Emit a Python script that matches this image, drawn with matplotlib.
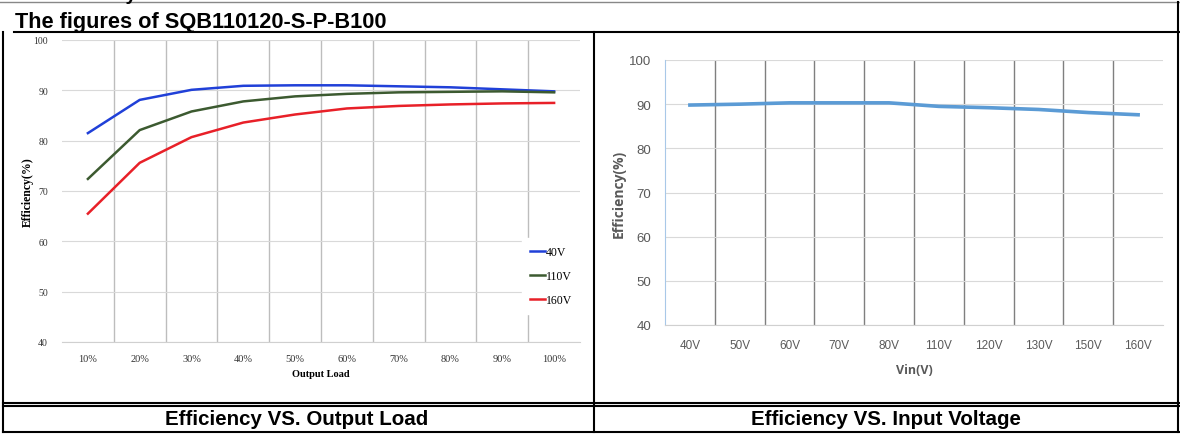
import matplotlib
matplotlib.use("Agg")
import matplotlib.pyplot as plt
from matplotlib.lines import Line2D
import numpy as np

# -------------------------
# Data
# -------------------------
load_labels = ["10%", "20%", "30%", "40%", "50%", "60%", "70%", "80%", "90%", "100%"]
eff_40v = [81.5, 88.1, 90.1, 90.9, 91.0, 91.0, 90.8, 90.6, 90.2, 89.8]
eff_110v = [72.4, 82.1, 85.8, 87.8, 88.8, 89.3, 89.6, 89.7, 89.8, 89.6]
eff_160v = [65.5, 75.6, 80.7, 83.6, 85.2, 86.4, 86.9, 87.2, 87.4, 87.5]
series_names = ["40V", "110V", "160V"]

vin_labels = ["40V", "50V", "60V", "70V", "80V", "110V", "120V", "130V", "150V", "160V"]
eff_vin = [89.8, 90.0, 90.3, 90.3, 90.3, 89.5, 89.2, 88.8, 88.1, 87.6]

y_ticks = [40, 50, 60, 70, 80, 90, 100]

W, H = 1180, 435


def px_axes(fig, x0, y0, x1, y1):
    # pixel box (top-left origin) -> figure axes
    return fig.add_axes([x0 / W, 1 - y1 / H, (x1 - x0) / W, (y1 - y0) / H])


def hline(fig, x0, x1, y, lw=1.5, color="black"):
    fig.add_artist(Line2D([x0 / W, x1 / W], [1 - y / H, 1 - y / H], lw=lw, color=color))


def vline(fig, x, y0, y1, lw=1.5, color="black"):
    fig.add_artist(Line2D([x / W, x / W], [1 - y0 / H, 1 - y1 / H], lw=lw, color=color))


def category_grid(ax, n, vcolor):
    ax.set_xlim(-0.5, n - 0.5)
    ax.set_xticks(np.arange(n))
    ax.set_xticks(np.arange(0.5, n - 1, 1.0), minor=True)
    ax.grid(axis="x", which="minor", color=vcolor, lw=1.0)
    ax.grid(axis="y", which="major", color="#d9d9d9", lw=0.8)
    ax.tick_params(which="both", length=0)
    ax.set_axisbelow(True)


fig = plt.figure(figsize=(W / 100, H / 100), dpi=100)

# -------------------------
# Table frame
# -------------------------
hline(fig, 0, W, 3, lw=1.0, color="#888888")
hline(fig, 14, W, 33, lw=1.5)
hline(fig, 3, W, 404, lw=1.5)
hline(fig, 3, W, 406.5, lw=1.5)
hline(fig, 3, W, 433, lw=1.5)
vline(fig, 3, 33, 433)
vline(fig, 594, 33, 433)
vline(fig, 1178, 3, 433)

# heading of the previous section, only its descender shows at the top edge
fig.text(137 / W, 1 - 0.5 / H, "Efficiency", ha="right", va="baseline",
         fontsize=14, fontweight="bold", family="Liberation Sans")
fig.text(15 / W, 1 - 28 / H, "The figures of SQB110120-S-P-B100", ha="left", va="baseline",
         fontsize=15.7, fontweight="bold", family="Liberation Sans")
fig.text(297 / W, 1 - 420 / H, "Efficiency VS. Output Load", ha="center", va="center",
         fontsize=14.8, fontweight="bold", family="Liberation Sans")
fig.text(886 / W, 1 - 420 / H, "Efficiency VS. Input Voltage", ha="center", va="center",
         fontsize=14.8, fontweight="bold", family="Liberation Sans")

# -------------------------
# Left: efficiency vs output load
# -------------------------
ax1 = px_axes(fig, 62, 41, 580, 343)
x1 = np.arange(len(load_labels))
colors1 = ["#2040d8", "#3c5a30", "#e82028"]
for vals, name, c in zip([eff_40v, eff_110v, eff_160v], series_names, colors1):
    ax1.plot(x1, vals, color=c, lw=1.8, label=name)
category_grid(ax1, len(load_labels), "#bdbdbd")
ax1.set_ylim(40, 100)
ax1.set_yticks(y_ticks)
ax1.set_xticklabels(load_labels, family="Liberation Serif", fontsize=7.5, color="#333333")
ax1.set_yticklabels([str(v) for v in y_ticks], family="Liberation Serif", fontsize=7,
                    color="#333333")
ax1.tick_params(axis="x", pad=9)
ax1.tick_params(axis="y", pad=10)
for s in ["top", "right", "left"]:
    ax1.spines[s].set_visible(False)
ax1.spines["bottom"].set_color("#d0d0d0")
ax1.set_xlabel("Output Load", family="Liberation Serif", fontsize=7.5, fontweight="bold",
               labelpad=4)
ax1.set_ylabel("Efficiency(%)", family="Liberation Serif", fontsize=8.5, fontweight="bold",
               labelpad=0)
leg = ax1.legend(loc="center right", bbox_to_anchor=(1.0, 0.218), frameon=True,
                 prop={"family": "Liberation Serif", "size": 8.5},
                 handlelength=1.3, handletextpad=0.0, labelspacing=1.0,
                 borderpad=0.7, borderaxespad=0.0, fancybox=False)
leg.get_frame().set_edgecolor("white")
leg.get_frame().set_alpha(1.0)

# -------------------------
# Right: efficiency vs input voltage
# -------------------------
ax2 = px_axes(fig, 665, 61, 1163, 326)
x2 = np.arange(len(vin_labels))
ax2.plot(x2, eff_vin, color="#5b9bd5", lw=2.6)
category_grid(ax2, len(vin_labels), "#7f7f7f")
ax2.set_ylim(40, 100)
ax2.set_yticks(y_ticks)
ax2.set_xticklabels(vin_labels, family="Liberation Sans", fontsize=8.5, color="#595959")
ax2.set_yticklabels([str(v) for v in y_ticks], family="Liberation Sans", fontsize=9.5,
                    color="#595959")
ax2.tick_params(axis="x", pad=10)
ax2.tick_params(axis="y", pad=10)
for s in ["top", "right"]:
    ax2.spines[s].set_visible(False)
ax2.spines["left"].set_color("#a8c8e8")
ax2.spines["bottom"].set_color("#d0d0d0")
ax2.set_xlabel("Vin(V)", family="Open Sans", fontsize=9, fontweight="bold", color="#595959",
               labelpad=9)
ax2.set_ylabel("Efficiency(%)", family="Open Sans", fontsize=10, fontweight="bold",
               color="#595959", labelpad=2)

fig.savefig("out.png", dpi=100)
